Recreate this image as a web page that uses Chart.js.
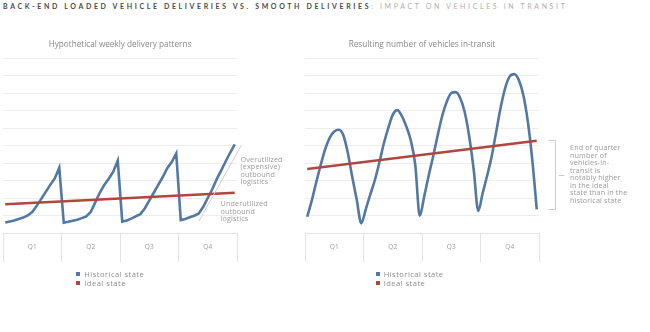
<!DOCTYPE html>
<html><head><meta charset="utf-8">
<script src="https://cdn.jsdelivr.net/npm/chart.js@4/dist/chart.umd.min.js"></script>
<style>
html,body{margin:0;padding:0;background:#fff;}
body{width:650px;height:332px;position:relative;overflow:hidden;font-family:"Open Sans",Lato,sans-serif;}
#title{position:absolute;left:3px;top:2px;font-family:Lato,"Open Sans",sans-serif;font-size:7px;letter-spacing:2.63px;white-space:nowrap;line-height:9px;}
#title b{color:#4a4a4a;font-weight:700}
#title span{color:#b0b0b0;font-weight:400}
canvas{position:absolute;}
.note{position:absolute;font-size:7.2px;line-height:7.5px;color:#9c9c9c;white-space:nowrap;letter-spacing:0.15px;}
.legend{position:absolute;font-size:7.6px;line-height:8.7px;color:#8c8c8c;white-space:nowrap;letter-spacing:0.45px;}
.legend i{display:inline-block;width:4px;height:4px;margin-right:4px;vertical-align:1px}
</style></head><body>
<div id="title"><b>BACK-END LOADED VEHICLE DELIVERIES VS. SMOOTH DELIVERIES</b><span>: IMPACT ON VEHICLES IN TRANSIT</span></div>
<canvas id="c1" width="250" height="240" style="left:0;top:34px"></canvas>
<canvas id="c2" width="280" height="240" style="left:300px;top:34px"></canvas>
<div class="note" style="left:240.5px;top:155.5px">Overutilized<br>(expensive)<br>outbound<br>logistics</div>
<div class="note" style="left:220.5px;top:200.3px">Underutilized<br>outbound<br>logistics</div>
<div class="note" style="left:570px;top:144px">End of quarter<br>number of<br>vehicles-in-<br>transit is<br>notably higher<br>in the ideal<br>state than in the<br>historical state</div>
<div class="legend" id="lg1" style="left:76.3px;top:270px"></div>
<div class="legend" id="lg2" style="left:375.7px;top:270px"></div>
<script>
// ---- data ----
const weeks = Array.from({length: 52}, (_, i) => 'W' + (i + 1));
const quarters = ['Q1', 'Q2', 'Q3', 'Q4'];
const seriesNames = ['Historical state', 'Ideal state'];

// Hypothetical weekly delivery patterns (grid units)
const deliveriesHistorical = [
  0.60, 0.66, 0.72, 0.80, 0.88, 1.00, 1.20, 1.55, 1.95, 2.35, 2.75, 3.12, 3.73,
  0.59, 0.64, 0.70, 0.76, 0.85, 0.95, 1.20, 1.75, 2.30, 2.75, 3.10, 3.50, 4.13,
  0.65, 0.72, 0.82, 0.95, 1.08, 1.40, 1.85, 2.30, 2.75, 3.20, 3.70, 4.05, 4.55,
  0.74, 0.80, 0.90, 0.98, 1.12, 1.50, 2.00, 2.50, 3.08, 3.58, 4.10, 4.60, 5.07
];
const deliveriesIdeal = [1.64, 2.30];          // first week, last week

// Resulting number of vehicles in-transit
const transitHistorical = [
  0.93, 1.85, 2.90, 3.90, 4.80, 5.45, 5.80, 5.90, 5.60, 4.60, 3.20, 1.90, 0.55,
  1.35, 2.20, 3.00, 4.00, 5.10, 6.00, 6.75, 7.02, 6.70, 6.10, 5.30, 3.90, 0.99,
  2.10, 3.30, 4.40, 5.60, 6.70, 7.50, 8.00, 8.05, 7.70, 6.90, 5.50, 3.60, 1.26,
  2.30, 3.30, 4.40, 5.80, 7.20, 8.30, 8.95, 9.08, 8.75, 7.90, 6.40, 4.20, 1.35
];
const transitIdeal = [3.66, 5.27];             // first week, last week

// guide line on the left chart (week index, value)
const guideFrom = [43.06, 0.69];
const guideTo = [52.5, 5.03];

const BLUE = '#5278a4';
const RED = '#b0473f';
const FONT = '"Open Sans", Lato, sans-serif';

const guidePlugin = {
  id: 'guide',
  afterDatasetsDraw(chart) {
    const {ctx, scales: {x, y}} = chart;
    ctx.save();
    ctx.strokeStyle = '#cfcfcf';
    ctx.lineWidth = 1;
    ctx.beginPath();
    ctx.moveTo(x.getPixelForValue(guideFrom[0]), y.getPixelForValue(guideFrom[1]));
    ctx.lineTo(x.getPixelForValue(guideTo[0]), y.getPixelForValue(guideTo[1]));
    ctx.stroke();
    ctx.restore();
  }
};

const bracketPlugin = {
  id: 'bracket',
  afterDatasetsDraw(chart) {
    const {ctx, chartArea, scales: {y}} = chart;
    const h = chart.data.datasets[0].data;
    const id = chart.data.datasets[1].data;
    const yTop = Math.round(y.getPixelForValue(id[id.length - 1].y)) - 0.5;
    const yBot = Math.round(y.getPixelForValue(h[h.length - 1])) + 0.5;
    const xv = Math.round(chartArea.right + 16) + 0.5;
    const xl = xv - 7;
    const ym = Math.round((yTop + yBot) / 2) + 0.5;
    ctx.save();
    ctx.strokeStyle = '#cccccc';
    ctx.lineWidth = 1;
    ctx.beginPath();
    ctx.moveTo(xl, yTop); ctx.lineTo(xv, yTop); ctx.lineTo(xv, yBot); ctx.lineTo(xl, yBot);
    ctx.moveTo(xv + 3, ym); ctx.lineTo(xv + 9, ym);
    ctx.stroke();
    ctx.restore();
  }
};

function makeChart(id, title, hist, ideal, opts) {
  return new Chart(document.getElementById(id), {
    type: 'line',
    data: {
      labels: weeks,
      datasets: [
        { label: seriesNames[0], data: hist, borderColor: BLUE, backgroundColor: BLUE,
          borderWidth: 2.6, pointRadius: 0, tension: opts.tension, cubicInterpolationMode: opts.cubic,
          order: 2, xAxisID: 'x' },
        { label: seriesNames[1], data: [{x: weeks[0], y: ideal[0]}, {x: weeks[weeks.length - 1], y: ideal[1]}],
          borderColor: RED, backgroundColor: RED, borderWidth: 2.6, pointRadius: 0, order: 1, xAxisID: 'x' }
      ]
    },
    options: {
      responsive: false, animation: false, devicePixelRatio: 1,
      layout: { padding: opts.padding },
      plugins: {
        legend: { display: false }, tooltip: { enabled: false },
        title: { display: true, text: title, color: '#8a8a8a', font: { family: FONT, size: 8.2, weight: 'normal', lineHeight: 1.1 },
                 padding: { top: 6.5, bottom: 8.5 } }
      },
      scales: {
        x: { type: 'category', offset: true, display: false },
        q: { type: 'category', labels: quarters, position: 'bottom', offset: true,
             grid: { offset: true, drawOnChartArea: false, tickLength: 29, color: '#e4e4e4' },
             border: { display: true, color: '#e4e4e4' },
             ticks: { padding: -19, color: '#9a9a9a', font: { family: FONT, size: 6.5 } },
             afterFit: (s) => { s.height = 29; } },
        y: { min: 0, max: 10, ticks: { stepSize: 1, display: false },
             grid: { color: '#ededed', drawTicks: false }, border: { display: false } }
      }
    },
    plugins: opts.plugins
  });
}

const c1 = makeChart('c1', 'Hypothetical weekly delivery patterns', deliveriesHistorical, deliveriesIdeal,
  { padding: { left: 3, right: 13, top: 0, bottom: 12 }, tension: 0, cubic: 'default', plugins: [guidePlugin] });
const c2 = makeChart('c2', 'Resulting number of vehicles in-transit', transitHistorical, transitIdeal,
  { padding: { left: 5, right: 41, top: 0, bottom: 12 }, tension: 0.4, cubic: 'monotone', plugins: [bracketPlugin] });

function htmlLegend(chart, elId) {
  document.getElementById(elId).innerHTML = chart.data.datasets
    .map(d => '<div><i style="background:' + d.borderColor + '"></i>' + d.label + '</div>').join('');
}
htmlLegend(c1, 'lg1');
htmlLegend(c2, 'lg2');
</script>
</body></html>
